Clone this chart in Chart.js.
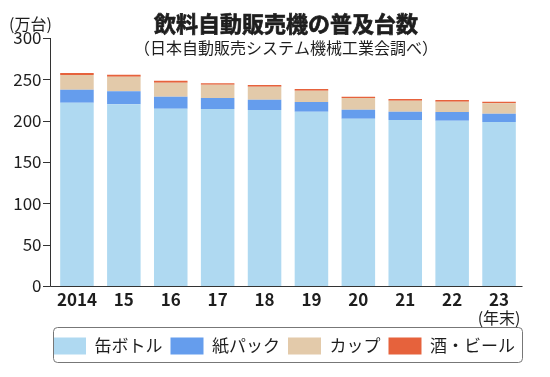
<!DOCTYPE html>
<html>
<head>
<meta charset="utf-8">
<script src="https://cdn.jsdelivr.net/npm/chart.js@4"></script>
<style>
  html, body { margin: 0; padding: 0; background: #fff; }
  #wrap { width: 550px; height: 377px; }
</style>
</head>
<body>
<div id="wrap"><canvas id="grafico"></canvas></div>
<script>
// 年末の台数（万台）
const years = ['2014', '15', '16', '17', '18', '19', '20', '21', '22', '23'];
const canBottle = [221.7, 219.8, 214.5, 214.1, 212.9, 210.8, 202.4, 200.8, 200.0, 198.4];
const paperPack = [15.8, 15.7, 14.5, 13.3, 12.5, 11.8, 10.9, 10.0, 10.5, 10.0];
const cup = [17.7, 17.7, 16.9, 16.1, 15.7, 13.6, 14.1, 13.3, 12.4, 12.6];
const alcohol = [2.5, 2.4, 2.4, 1.8, 2.0, 2.1, 1.6, 2.1, 2.1, 1.9];
const yTicks = [0, 50, 100, 150, 200, 250, 300];

const FONT = '"Noto Sans CJK JP", "Noto Sans", sans-serif';
const INK = '#1e1e1e';
const AXIS = '#333';

// 軸線と凡例の枠、見出しを描く
const extras = {
    id: 'extras',
    afterLayout(chart) {
        // 凡例をプロット領域の中央にそろえる
        const lg = chart.legend;
        const area = chart.chartArea;
        const dx = (area.left + area.right) / 2 - (lg.left + lg.right + lg.options.labels.padding) / 2;
        lg.left += dx;
        lg.right += dx;
    },
    afterDraw(chart) {
        const ctx = chart.ctx;
        const area = chart.chartArea;
        const y = chart.scales.y;
        const axisX = Math.round(area.left - 4);
        ctx.save();
        ctx.strokeStyle = AXIS;
        ctx.lineWidth = 1;
        ctx.beginPath();
        ctx.moveTo(axisX + 0.5, y.getPixelForValue(300));
        ctx.lineTo(axisX + 0.5, area.bottom + 0.5);
        ctx.lineTo(area.right, area.bottom + 0.5);
        yTicks.forEach(v => {
            const py = Math.round(y.getPixelForValue(v)) + 0.5;
            ctx.moveTo(axisX - 7, py);
            ctx.lineTo(axisX + 0.5, py);
        });
        ctx.stroke();

        const lg = chart.legend;
        if (lg && lg.legendHitBoxes.length) {
            const hb = lg.legendHitBoxes[0];
            const cy = hb.top + hb.height / 2;
            ctx.strokeStyle = '#777';
            ctx.beginPath();
            ctx.roundRect(Math.round(area.left) - 0.5, Math.round(cy - 19) + 0.5, Math.round(area.right - area.left), 35, 4);
            ctx.stroke();
        }

        ctx.fillStyle = INK;
        ctx.strokeStyle = INK;
        ctx.textBaseline = 'middle';
        ctx.textAlign = 'center';
        ctx.font = 'bold 22px ' + FONT;
        ctx.lineWidth = 0.7;
        ctx.fillText('飲料自動販売機の普及台数', 286, 24);
        ctx.strokeText('飲料自動販売機の普及台数', 286, 24);
        ctx.font = '16px ' + FONT;
        ctx.fillText('（日本自動販売システム機械工業会調べ）', 286, 47.5);
        ctx.fillText('(年末)', chart.scales.x.getPixelForValue(years.length - 1), 318);
        ctx.textAlign = 'left';
        ctx.fillText('(万台)', 9, 24);
        ctx.restore();
    }
};

new Chart(document.getElementById('grafico'), {
    type: 'bar',
    data: {
        labels: years,
        datasets: [
            { label: '缶ボトル', data: canBottle, backgroundColor: '#afd9f1' },
            { label: '紙パック', data: paperPack, backgroundColor: '#659ded' },
            { label: 'カップ', data: cup, backgroundColor: '#e3caaa' },
            { label: '酒・ビール', data: alcohol, backgroundColor: '#e6623c' }
        ]
    },
    options: {
        responsive: true,
        maintainAspectRatio: false,
        animation: false,
        events: [],
        datasets: {
            bar: { categoryPercentage: 1, barPercentage: 0.715, borderWidth: 0 }
        },
        layout: { padding: { top: 38, left: 14, right: 27.5, bottom: 12.5 } },
        scales: {
            x: {
                stacked: true,
                grid: { display: false, drawTicks: false },
                border: { display: false },
                ticks: { color: INK, padding: 3, font: { family: FONT, size: 17, weight: 'bold' } },
                afterFit(scale) { scale.height = 43.5; }
            },
            y: {
                stacked: true,
                min: 0,
                max: 300,
                afterBuildTicks(scale) { scale.ticks = yTicks.map(v => ({ value: v })); },
                grid: { display: false, drawTicks: false },
                border: { display: false },
                ticks: { color: INK, padding: 12, font: { family: FONT, size: 17 } },
                afterFit(scale) { scale.width = 39.5; }
            }
        },
        plugins: {
            title: { display: false },
            tooltip: { enabled: false },
            legend: {
                position: 'bottom',
                labels: {
                    color: INK,
                    boxWidth: 33,
                    boxHeight: 17,
                    padding: 8,
                    font: { family: FONT, size: 17 }
                }
            }
        }
    },
    plugins: [extras]
});
</script>
</body>
</html>
